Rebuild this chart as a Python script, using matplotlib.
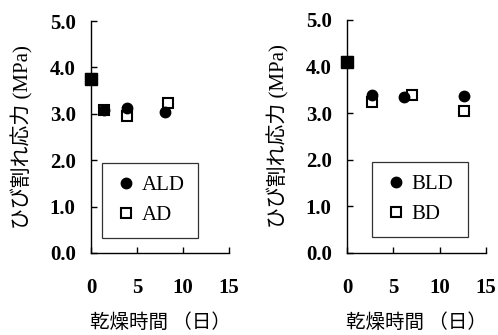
import matplotlib
matplotlib.use("Agg")
import matplotlib.pyplot as plt

# Left panel data
a_days_ld = [0, 1.4, 3.9, 8.1]
a_ld = [3.75, 3.08, 3.12, 3.04]
a_days_d = [0, 1.4, 3.9, 8.4]
a_d = [3.75, 3.08, 2.95, 3.23]

# Right panel data
b_days_ld = [0, 2.7, 6.2, 12.6]
b_ld = [4.1, 3.39, 3.35, 3.37]
b_days_d = [0, 2.7, 7.0, 12.6]
b_d = [4.1, 3.24, 3.39, 3.05]

labels_left = ["ALD", "AD"]
labels_right = ["BLD", "BD"]
xticks = [0, 5, 10, 15]
yticks = [0.0, 1.0, 2.0, 3.0, 4.0, 5.0]
ylabel = "ひび割れ応力 (MPa)"
xlabel = "乾燥時間 （日）"

serif = ["Liberation Serif", "Noto Sans CJK JP"]
cjk = ["Noto Sans CJK JP", "DejaVu Sans"]

fig = plt.figure(figsize=(4.98, 3.35), dpi=100)
axL = fig.add_axes([0.1827, 0.2448, 0.277, 0.6925])
axR = fig.add_axes([0.6968, 0.2448, 0.279, 0.6955])

def style(ax, xs_ld, ys_ld, xs_d, ys_d, labels, lbox):
    ax.plot(xs_ld, ys_ld, "o", color="black", markersize=7.5, clip_on=False,
            label=labels[0], zorder=3)
    ax.plot(xs_d, ys_d, "s", markerfacecolor="white", markeredgecolor="black",
            markeredgewidth=1.5, markersize=7, clip_on=False, label=labels[1], zorder=2)
    # filled square at day 0 (overlap of both series)
    ax.plot([xs_d[0]], [ys_d[0]], "s", color="black", markersize=8, clip_on=False, zorder=4)
    ax.set_xlim(0, 15)
    ax.set_ylim(0, 5)
    ax.set_xticks(xticks)
    ax.set_yticks(yticks)
    ax.set_yticklabels([f"{v:.1f}" for v in yticks])
    for s in ["top", "right"]:
        ax.spines[s].set_visible(False)
    for s in ["left", "bottom"]:
        ax.spines[s].set_linewidth(1.0)
    ax.tick_params(direction="in", length=4, width=1.0)
    ax.tick_params(axis="x", pad=18)
    ax.tick_params(axis="y", pad=11)
    for lab in ax.get_xticklabels() + ax.get_yticklabels():
        lab.set_fontfamily(serif)
        lab.set_fontsize(15)
        lab.set_fontweight("semibold")
    ax.set_ylabel(ylabel, fontfamily=serif, fontsize=15, labelpad=12)
    ax.set_xlabel(xlabel, fontfamily=cjk, fontsize=14, labelpad=10)
    leg = ax.legend(loc="lower left", bbox_to_anchor=lbox, mode="expand",
                    prop={"family": serif, "size": 15}, frameon=True,
                    fancybox=False, edgecolor="black", handletextpad=0.2,
                    labelspacing=0.5, borderpad=0.6, handlelength=1.1,
                    borderaxespad=0)
    leg.get_frame().set_linewidth(0.9)

style(axL, a_days_ld, a_ld, a_days_d, a_d, labels_left, (0.08, 0.065, 0.695, 0.32))
style(axR, b_days_ld, b_ld, b_days_d, b_d, labels_right, (0.18, 0.069, 0.69, 0.32))

fig.savefig("out.png", dpi=100)
